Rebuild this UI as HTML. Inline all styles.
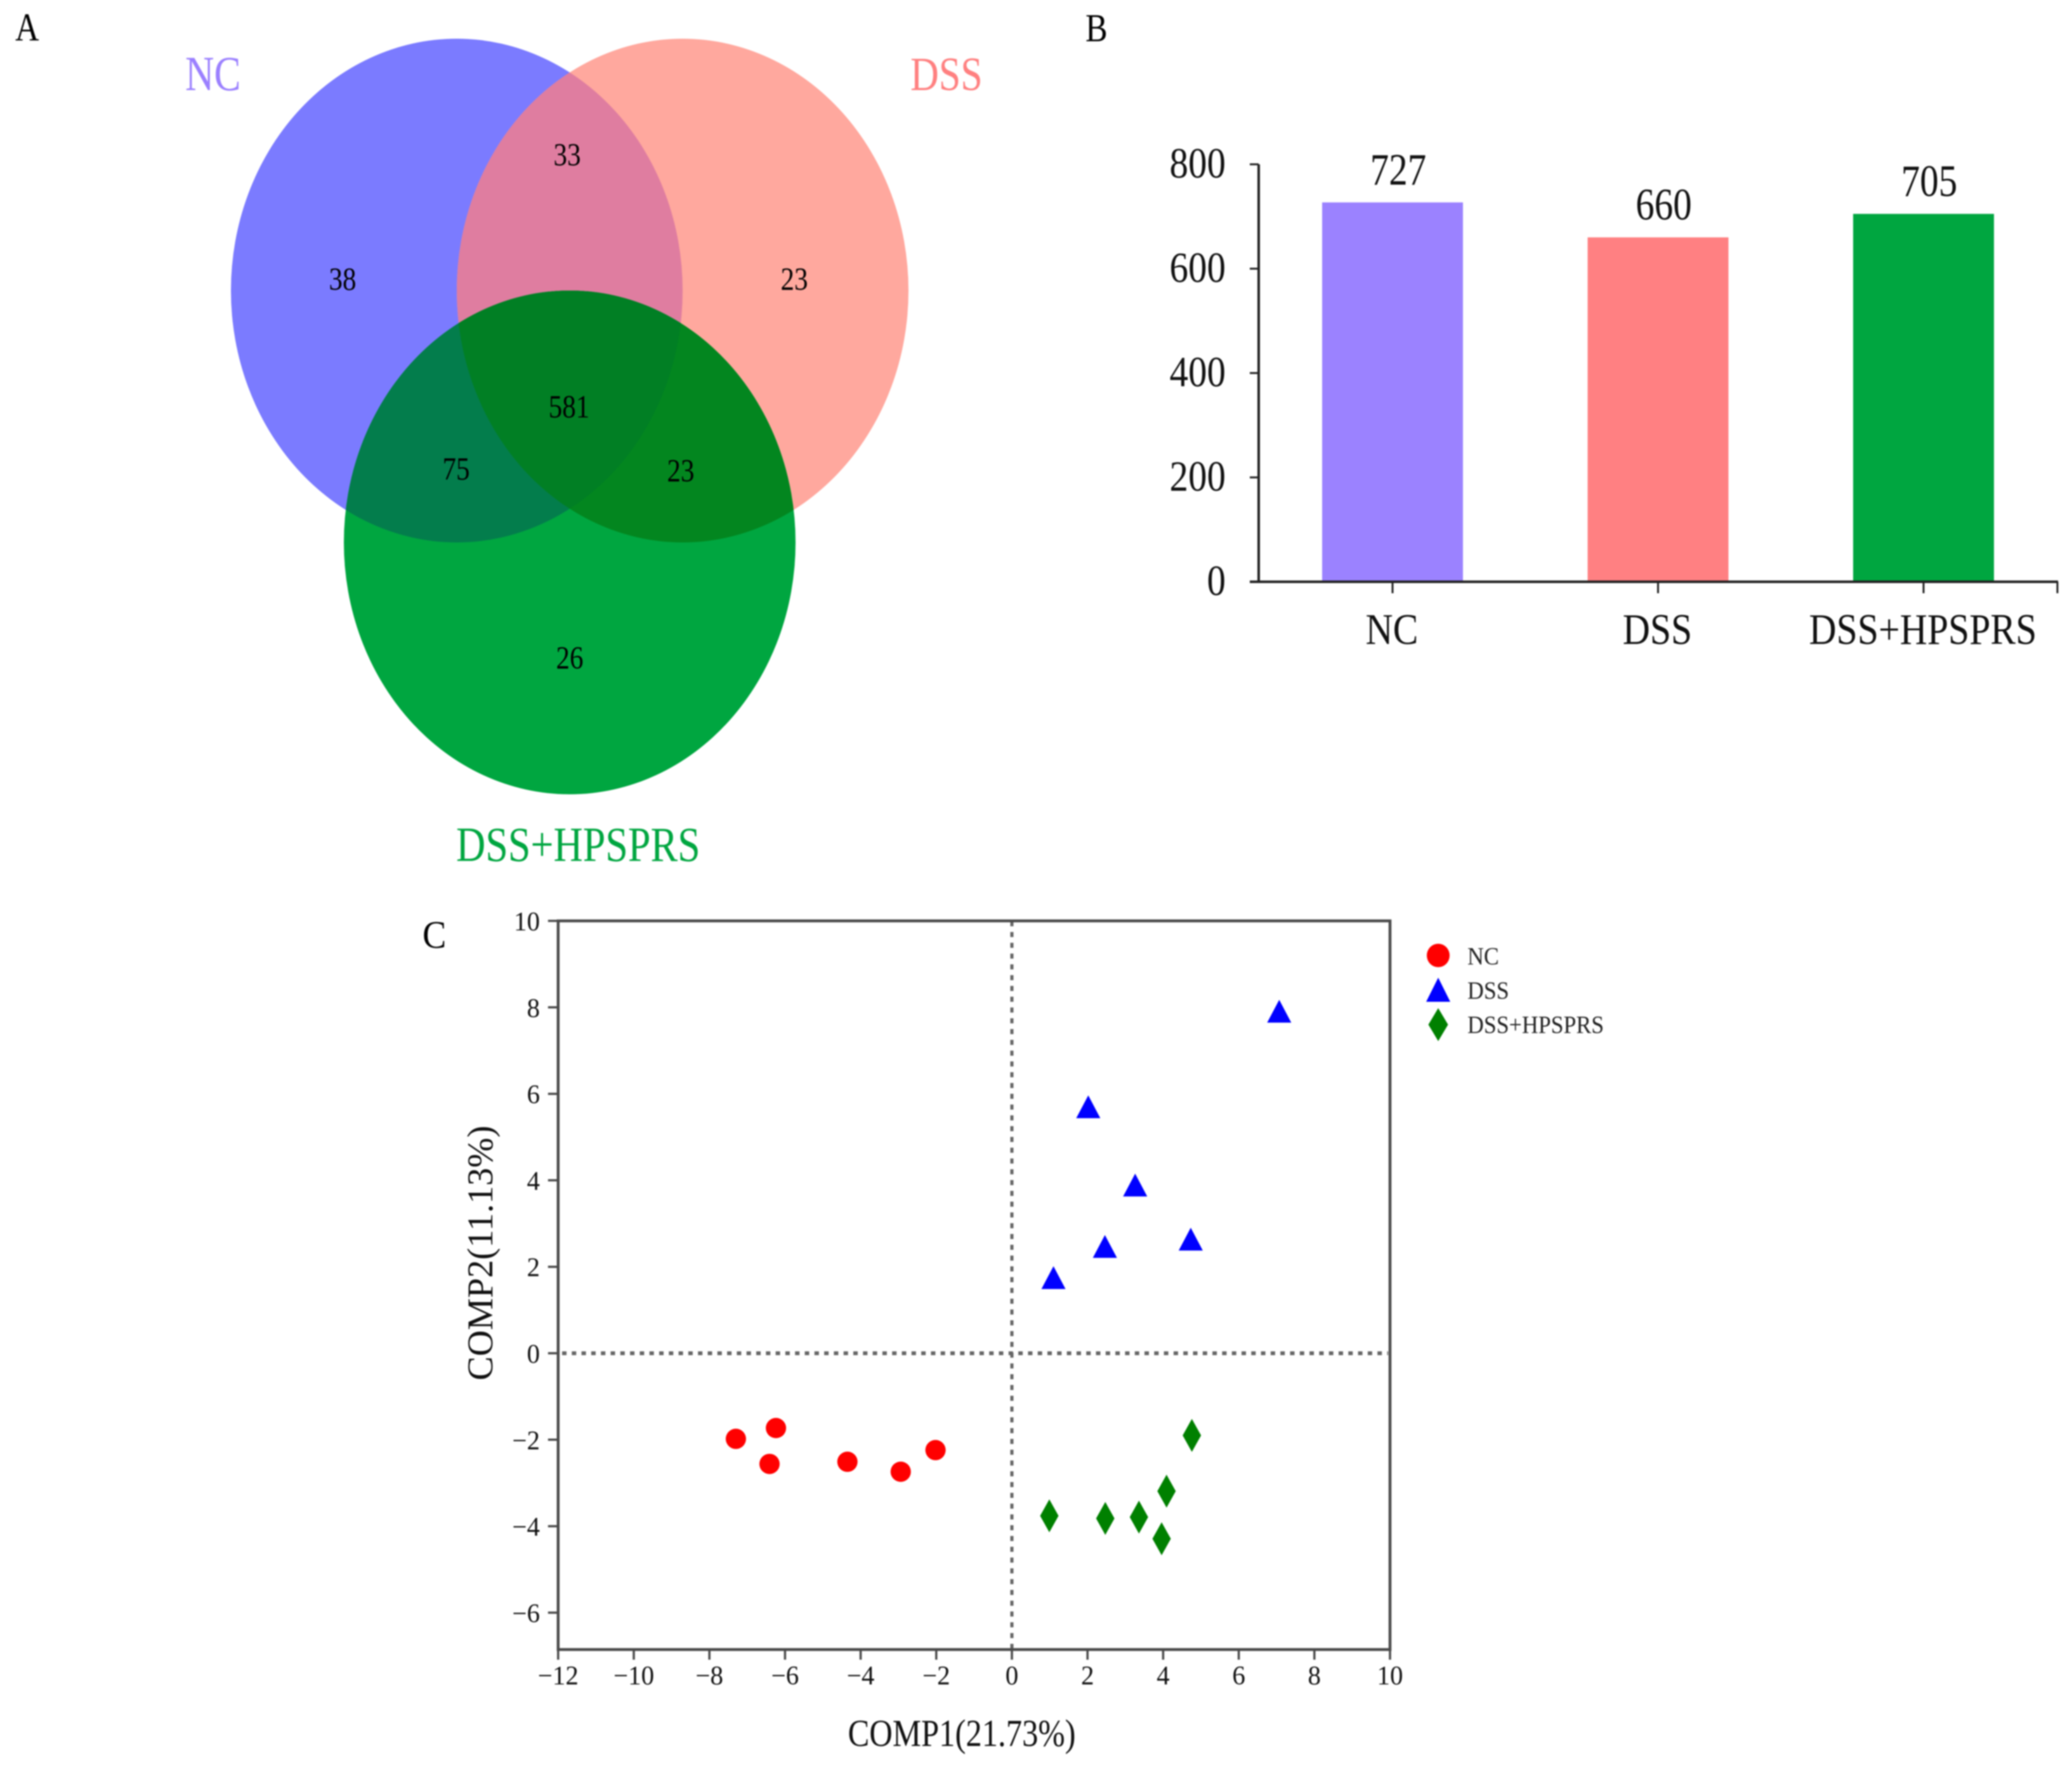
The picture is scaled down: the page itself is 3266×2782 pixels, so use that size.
<!DOCTYPE html>
<html lang="en">
<head>
<meta charset="utf-8">
<title>Venn, bar and PLS-DA panels</title>
<style>
html,body{margin:0;padding:0;background:#fff;}
svg{display:block;filter:blur(1px);}
text{font-family:"Liberation Serif",serif;}
</style>
</head>
<body>
<svg id="figure" xmlns="http://www.w3.org/2000/svg" width="3266" height="2782" viewBox="0 0 3266 2782">
  <rect x="0" y="0" width="3266" height="2782" fill="#ffffff"/>
  <defs>
    <clipPath id="clip-nc"><ellipse cx="720" cy="458" rx="356" ry="397"/></clipPath>
    <clipPath id="clip-dss"><ellipse cx="1076" cy="458" rx="356" ry="397"/></clipPath>
    <clipPath id="clip-green"><ellipse cx="898" cy="855" rx="356" ry="397"/></clipPath>
  </defs>

  <g>
    <ellipse cx="720" cy="458" rx="356" ry="397" fill="#7b7bff"/>
    <ellipse cx="1076" cy="458" rx="356" ry="397" fill="#ffa89e"/>
    <ellipse cx="1076" cy="458" rx="356" ry="397" fill="#df7da0" clip-path="url(#clip-nc)"/>
    <ellipse cx="898" cy="855" rx="356" ry="397" fill="#00a640"/>
    <ellipse cx="898" cy="855" rx="356" ry="397" fill="#037d4c" clip-path="url(#clip-nc)"/>
    <ellipse cx="898" cy="855" rx="356" ry="397" fill="#03861f" clip-path="url(#clip-dss)"/>
    <g clip-path="url(#clip-nc)">
      <ellipse cx="898" cy="855" rx="356" ry="397" fill="#017f24" clip-path="url(#clip-dss)"/>
    </g>
  </g>
  <g id="venn-labels"></g>
  <g id="panel-b"></g>
  <g id="panel-c"></g>
</svg>

<script>
// Panel B data
const barCategories = ['NC', 'DSS', 'DSS+HPSPRS'];
const barValues = [727, 660, 705];
const barColors = ['#9b82ff', '#ff8082', '#00a640'];
const barTicks = [0, 200, 400, 600, 800];

// Panel C data
const xTicks = [-12, -10, -8, -6, -4, -2, 0, 2, 4, 6, 8, 10];
const yTicks = [-6, -4, -2, 0, 2, 4, 6, 8, 10];
const ncX = [-7.3, -6.24, -6.41, -4.35, -2.94, -2.02];
const ncY = [-1.98, -1.73, -2.56, -2.51, -2.74, -2.24];
const dssX = [7.07, 2.02, 3.26, 4.73, 2.46, 1.1];
const dssY = [7.91, 5.7, 3.89, 2.64, 2.47, 1.75];
const hpsprsX = [4.76, 4.09, 0.99, 2.47, 3.36, 3.96];
const hpsprsY = [-1.9, -3.19, -3.76, -3.82, -3.79, -4.29];

// Panel A data
const vennCounts = ['33', '38', '23', '581', '75', '23', '26'];

const NS = 'http://www.w3.org/2000/svg';
const fig = document.getElementById('figure');
const vennG = document.getElementById('venn-labels');
const barG = document.getElementById('panel-b');
const scatG = document.getElementById('panel-c');

function mk(tag, parent, attrs) {
  const el = document.createElementNS(NS, tag);
  for (const k in attrs) el.setAttribute(k, attrs[k]);
  parent.appendChild(el);
  return el;
}
function txt(parent, x, y, str, size, sy, anchor, fill) {
  const el = mk('text', parent, {
    transform: 'translate(' + x + ',' + y + ') scale(1,' + sy + ')',
    'font-size': size, 'text-anchor': anchor, fill: fill
  });
  el.textContent = str;
  return el;
}
function line(parent, x1, y1, x2, y2, stroke, w) {
  return mk('line', parent, { x1: x1, y1: y1, x2: x2, y2: y2, stroke: stroke, 'stroke-width': w });
}

/* ---------- panel letters ---------- */
let letter;
letter = txt(fig, 24, 64, 'A', 52, 1.2, 'start', '#000');


letter = txt(fig, 1711, 65, 'B', 52, 1.2, 'start', '#000');


letter = txt(fig, 666, 1494, 'C', 56, 1.1, 'start', '#000');



/* ---------- Venn labels ---------- */
let vt;
vt = txt(vennG, 292, 142, 'NC', 63, 1.22, 'start', '#9b80ff');


vt = txt(vennG, 1435, 142, 'DSS', 62, 1.22, 'start', '#ff8080');


vt = txt(vennG, 719, 1357, 'DSS+HPSPRS', 64, 1.2, 'start', '#00a640');



const vennAnchors = [[894, 261], [540, 457], [1252, 457], [897, 658], [719, 756], [1073, 759], [898, 1054]];
vennCounts.forEach(function (c, i) {
  const t = txt(vennG, vennAnchors[i][0], vennAnchors[i][1], c, 43, 1.17, 'middle', '#000');
  
  
});

/* ---------- Panel B ---------- */
const by = function (v) { return 917 - v * 0.8225; };
const bx = function (i) { return 2195 + i * 418.5; };
const barWidth = 222;

barValues.forEach(function (v, i) {
  const r = mk('rect', barG, { x: bx(i) - barWidth / 2, y: by(v), width: barWidth, height: by(0) - by(v), fill: barColors[i] });
  
  
  const t = txt(barG, bx(i) + 9, by(v) - 28, String(v), 59, 1.2, 'middle', '#111');
  
  
  const tick = line(barG, bx(i), by(0), bx(i), by(0) + 18, '#222', 3);
  
  
  const c = txt(barG, bx(i) - 1, 1015, barCategories[i], 59.7, 1.15, 'middle', '#111');
  
  
});
const bAxisY = line(barG, 1984, by(800), 1984, by(0), '#222', 4);


const bAxisX = line(barG, 1970, by(0), 3244, by(0), '#222', 4);


const bAxisEnd = line(barG, 3243, by(0), 3243, by(0) + 18, '#222', 3);


barTicks.forEach(function (v) {
  const tick = line(barG, 1970, by(v), 1984, by(v), '#222', 3);
  
  
  const t = txt(barG, 1932, by(v) + 21, String(v), 59, 1.15, 'end', '#111');
  
  
});

/* ---------- Panel C ---------- */
const sx = function (v) { return 1595 + v * 59.6; };
const sy = function (v) { return 2133 - v * 68.15; };
const plotBottom = 2600;
const axisColor = '#4a4a4a';

const hDots = mk('line', scatG, { x1: 886, y1: sy(0), x2: 2188, y2: sy(0), stroke: '#666', 'stroke-width': 6, 'stroke-dasharray': '7 8.3' });


const vDots = mk('line', scatG, { x1: sx(0), y1: 1452, x2: sx(0), y2: plotBottom, stroke: '#666', 'stroke-width': 5, 'stroke-dasharray': '8 9' });



const frame = mk('rect', scatG, { x: sx(-12), y: sy(10), width: sx(10) - sx(-12), height: plotBottom - sy(10), fill: 'none', stroke: axisColor, 'stroke-width': 4.5 });



xTicks.forEach(function (v) {
  const tick = line(scatG, sx(v), plotBottom, sx(v), plotBottom + 16, axisColor, 3.5);
  
  
  const t = txt(scatG, sx(v), 2655, String(v).replace('-', '\u2212'), 41, 1.02, 'middle', '#111');
  
  
});
yTicks.forEach(function (v) {
  const tick = line(scatG, sx(-12) - 16, sy(v), sx(-12), sy(v), axisColor, 3.5);
  
  
  const t = txt(scatG, 851, sy(v) + 15, String(v).replace('-', '\u2212'), 41, 1.02, 'end', '#111');
  
  
});

const xTitle = txt(scatG, 1516, 2752, 'COMP1(21.73%)', 50.7, 1.18, 'middle', '#111');


const yTitle = mk('text', scatG, { transform: 'translate(776,1975) rotate(-90)', 'font-size': 57, 'text-anchor': 'middle', fill: '#111' });
yTitle.textContent = 'COMP2(11.13%)';



function circle(cx, cy, rx, ry) {
  return mk('ellipse', scatG, { cx: cx, cy: cy, rx: rx, ry: ry, fill: '#ff0000' });
}
function triangle(cx, cy, w, h) {
  return mk('polygon', scatG, {
    points: cx + ',' + (cy - h / 2) + ' ' + (cx + w / 2) + ',' + (cy + h / 2) + ' ' + (cx - w / 2) + ',' + (cy + h / 2),
    fill: '#0000ff'
  });
}
function diamond(cx, cy, w, h) {
  return mk('polygon', scatG, {
    points: cx + ',' + (cy - h / 2) + ' ' + (cx + w / 2) + ',' + cy + ' ' + cx + ',' + (cy + h / 2) + ' ' + (cx - w / 2) + ',' + cy,
    fill: '#008000'
  });
}

ncX.forEach(function (v, i) {
  const m = circle(sx(v), sy(ncY[i]), 16, 16);
  
  
});
dssX.forEach(function (v, i) {
  const m = triangle(sx(v), sy(dssY[i]), 38, 36);
  
  
});
hpsprsX.forEach(function (v, i) {
  const m = diamond(sx(v), sy(hpsprsY[i]), 29, 52);
  
  
});

/* legend */
let lg;
lg = circle(2267, 1506, 18, 18.5);


lg = triangle(2267, 1560, 38, 38);


lg = diamond(2267, 1615, 31, 52);


lg = txt(scatG, 2313, 1520, 'NC', 35.8, 1.08, 'start', '#222');


lg = txt(scatG, 2313, 1574, 'DSS', 35.8, 1.08, 'start', '#222');


lg = txt(scatG, 2313, 1628, 'DSS+HPSPRS', 35.8, 1.08, 'start', '#222');


</script>
</body>
</html>
